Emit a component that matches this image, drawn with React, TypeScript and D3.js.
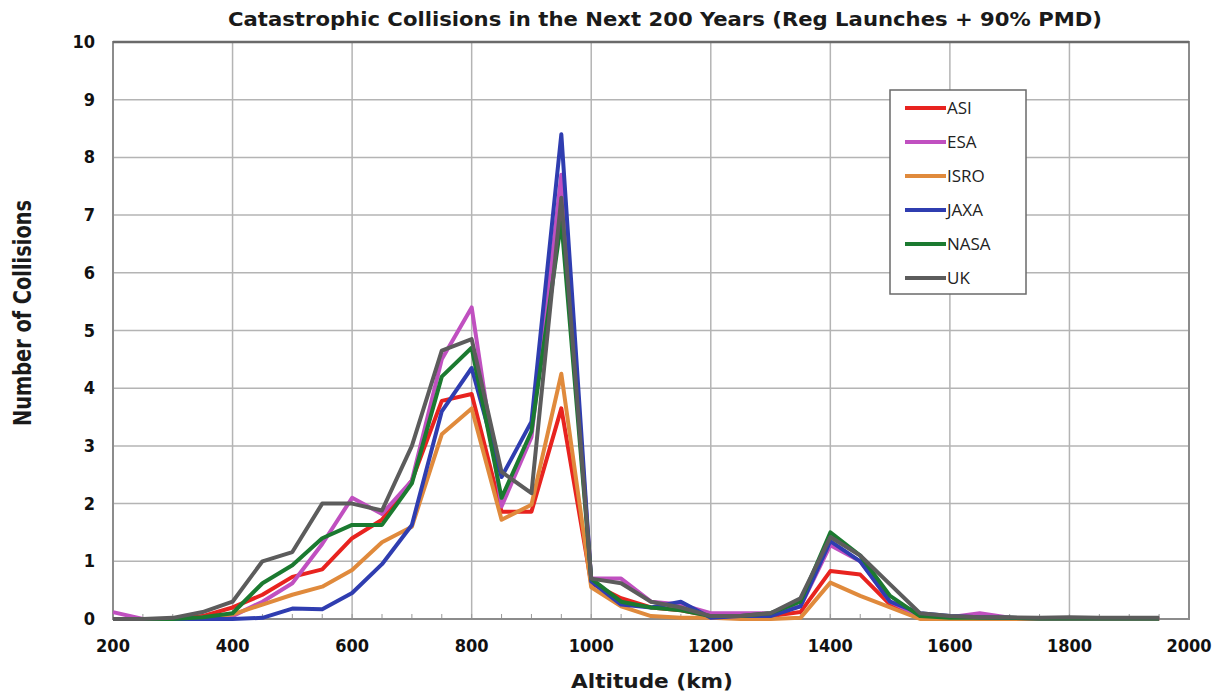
import React, { useEffect, useRef } from "react";
import * as d3 from "d3";

const altitudes = [200, 250, 300, 350, 400, 450, 500, 550, 600, 650, 700, 750, 800, 850, 900, 950,
  1000, 1050, 1100, 1150, 1200, 1250, 1300, 1350, 1400, 1450, 1500, 1550, 1600, 1650, 1700, 1750,
  1800, 1850, 1900, 1950];

const asi = [0, 0, 0, 0.05, 0.2, 0.42, 0.73, 0.86, 1.4, 1.72, 2.4, 3.78, 3.9, 1.86, 1.86, 3.65,
  0.62, 0.36, 0.2, 0.15, 0.05, 0.05, 0.05, 0.12, 0.83, 0.77, 0.25, 0.03, 0.02, 0.02, 0.01, 0, 0, 0, 0, 0];
const esa = [0.12, 0, 0, 0.02, 0.05, 0.3, 0.62, 1.3, 2.1, 1.82, 2.4, 4.5, 5.4, 1.95, 3.15, 7.7,
  0.7, 0.7, 0.3, 0.25, 0.1, 0.1, 0.1, 0.22, 1.28, 1.0, 0.3, 0.05, 0.03, 0.1, 0.02, 0.01, 0.01, 0, 0, 0];
const isro = [0, 0, 0, 0.02, 0.08, 0.25, 0.42, 0.56, 0.85, 1.33, 1.6, 3.2, 3.65, 1.72, 1.98, 4.25,
  0.55, 0.22, 0.05, 0.02, 0.02, 0, 0, 0.02, 0.63, 0.4, 0.2, 0, 0, 0, 0, 0, 0, 0, 0, 0];
const jaxa = [0, 0, 0, 0, 0, 0.02, 0.18, 0.17, 0.45, 0.95, 1.63, 3.6, 4.35, 2.46, 3.42, 8.4,
  0.65, 0.25, 0.2, 0.3, 0.02, 0.05, 0.05, 0.22, 1.35, 1.0, 0.3, 0.1, 0.05, 0.03, 0.02, 0.01, 0.01, 0.01, 0.01, 0.01];
const nasa = [0, 0, 0, 0.03, 0.1, 0.62, 0.93, 1.4, 1.63, 1.63, 2.35, 4.2, 4.7, 2.1, 3.25, 6.9,
  0.7, 0.3, 0.2, 0.15, 0.05, 0.05, 0.1, 0.3, 1.5, 1.1, 0.4, 0.05, 0.02, 0.02, 0.02, 0.01, 0.01, 0.01, 0.01, 0.01];
const uk = [0, 0, 0.02, 0.12, 0.3, 1.0, 1.16, 2.0, 2.0, 1.88, 3.0, 4.65, 4.85, 2.55, 2.18, 7.3,
  0.7, 0.62, 0.3, 0.2, 0.05, 0.05, 0.1, 0.36, 1.42, 1.1, 0.6, 0.1, 0.05, 0.03, 0.03, 0.02, 0.03, 0.02, 0.02, 0.02];

const seriesNames = ["ASI", "ESA", "ISRO", "JAXA", "NASA", "UK"];
const seriesValues = [asi, esa, isro, jaxa, nasa, uk];
const seriesColors = ["#e8231f", "#c050c0", "#e08a3c", "#2f3db0", "#1b7a30", "#5c5c5c"];

const xTicks = [200, 400, 600, 800, 1000, 1200, 1400, 1600, 1800, 2000];
const yTicks = [0, 1, 2, 3, 4, 5, 6, 7, 8, 9, 10];

const W = 1225, H = 693;
const margin = { top: 42, right: 36, bottom: 74, left: 113 };
const narrow = "'Liberation Sans Narrow', 'DejaVu Sans Condensed', sans-serif";

export default function App() {
  const ref = useRef<SVGSVGElement>(null);

  useEffect(() => {
    const svg = d3.select(ref.current);
    svg.selectAll("*").remove();

    const x = d3.scaleLinear().domain([200, 2000]).range([margin.left, W - margin.right]);
    const y = d3.scaleLinear().domain([0, 10]).range([H - margin.bottom, margin.top]);

    const g = svg.append("g");

    // grid
    g.selectAll(".vgrid").data(xTicks.slice(1, -1)).enter().append("line")
      .attr("x1", d => x(d)).attr("x2", d => x(d))
      .attr("y1", y(0)).attr("y2", y(10))
      .attr("stroke", "#b4b4b4").attr("stroke-width", 1.5);
    g.selectAll(".hgrid").data(yTicks.slice(1)).enter().append("line")
      .attr("x1", x(200)).attr("x2", x(2000))
      .attr("y1", d => y(d)).attr("y2", d => y(d))
      .attr("stroke", "#b4b4b4").attr("stroke-width", 1.5);

    // minor ticks along bottom every 50 km
    g.selectAll(".mtick").data(d3.range(250, 2000, 50)).enter().append("line")
      .attr("x1", d => x(d)).attr("x2", d => x(d))
      .attr("y1", y(0)).attr("y2", y(0) - 5)
      .attr("stroke", "#999").attr("stroke-width", 1);

    // frame
    g.append("rect")
      .attr("x", x(200)).attr("y", y(10))
      .attr("width", x(2000) - x(200)).attr("height", y(0) - y(10))
      .attr("fill", "none").attr("stroke", "#8c8c8c").attr("stroke-width", 2);
    g.append("line")
      .attr("x1", x(200)).attr("x2", x(2000)).attr("y1", y(10)).attr("y2", y(10))
      .attr("stroke", "#6a6a6a").attr("stroke-width", 2.5);

    // lines
    const line = d3.line<number>()
      .x((_, i) => x(altitudes[i]))
      .y(d => y(d));
    seriesValues.forEach((vals, k) => {
      g.append("path")
        .datum(vals)
        .attr("fill", "none")
        .attr("stroke", seriesColors[k])
        .attr("stroke-width", 4)
        .attr("stroke-linejoin", "round")
        .attr("d", line);
    });

    // tick labels
    g.selectAll(".xl").data(xTicks).enter().append("text")
      .attr("x", d => x(d)).attr("y", H - margin.bottom + 33)
      .attr("text-anchor", "middle")
      .attr("font-family", narrow)
      .attr("font-weight", "bold").attr("font-size", 18).attr("fill", "#111")
      .text(d => d);
    g.selectAll(".yl").data(yTicks).enter().append("text")
      .attr("x", margin.left - 18).attr("y", d => y(d) + 6)
      .attr("text-anchor", "end")
      .attr("font-family", narrow)
      .attr("font-weight", "bold").attr("font-size", 18).attr("fill", "#111")
      .text(d => d);

    // title and axis labels
    svg.append("text")
      .attr("x", 665).attr("y", 26).attr("text-anchor", "middle")
      .attr("font-family", narrow)
      .attr("font-weight", "bold").attr("font-size", 19).attr("fill", "#1a1a1a")
      .attr("textLength", 874).attr("lengthAdjust", "spacingAndGlyphs")
      .text("Catastrophic Collisions in the Next 200 Years (Reg Launches + 90% PMD)");
    svg.append("text")
      .attr("x", 652).attr("y", 688).attr("text-anchor", "middle")
      .attr("font-family", narrow)
      .attr("font-weight", "bold").attr("font-size", 20).attr("fill", "#1a1a1a")
      .attr("textLength", 162).attr("lengthAdjust", "spacingAndGlyphs")
      .text("Altitude (km)");
    svg.append("text")
      .attr("transform", "translate(31,313) rotate(-90)")
      .attr("text-anchor", "middle")
      .attr("font-family", narrow)
      .attr("font-weight", "bold").attr("font-size", 24).attr("fill", "#1a1a1a")
      .attr("textLength", 226).attr("lengthAdjust", "spacingAndGlyphs")
      .text("Number of Collisions");

    // legend
    const lg = svg.append("g").attr("transform", "translate(890,90)");
    lg.append("rect").attr("width", 136).attr("height", 204)
      .attr("fill", "#fff").attr("stroke", "#6a6a6a").attr("stroke-width", 1.5);
    seriesNames.forEach((name, k) => {
      const yy = 18 + k * 34;
      lg.append("line").attr("x1", 15).attr("x2", 56).attr("y1", yy).attr("y2", yy)
        .attr("stroke", seriesColors[k]).attr("stroke-width", 4);
      lg.append("text").attr("x", 57).attr("y", yy + 6)
        .attr("font-family", "'Open Sans', sans-serif")
        .attr("font-size", 17).attr("fill", "#222")
        .text(name);
    });
  }, []);

  return (
    <svg ref={ref} width={W} height={H}
      style={{ position: "absolute", left: 0, top: 0, background: "#fff" }} />
  );
}
